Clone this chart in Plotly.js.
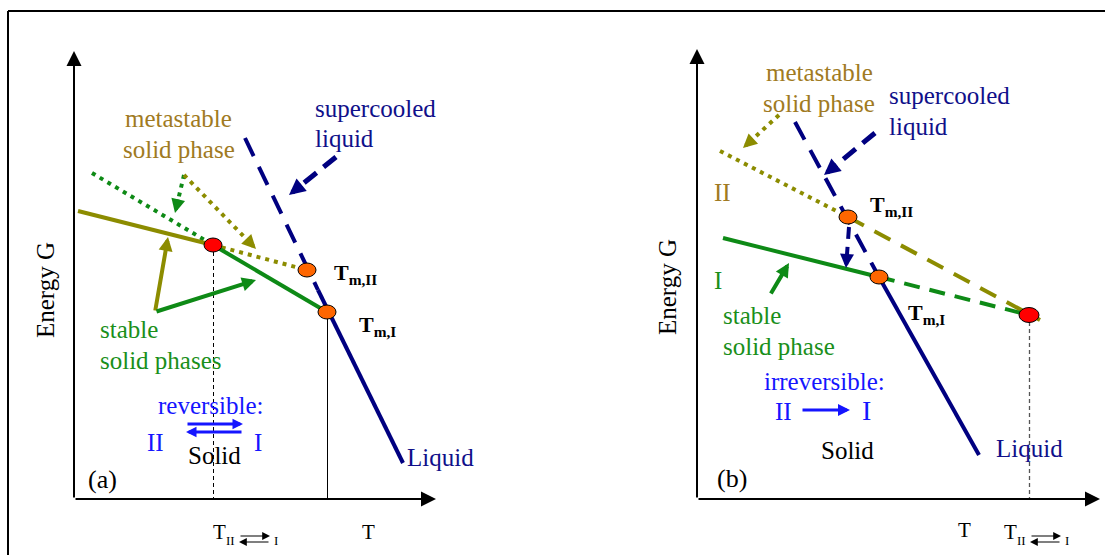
<!DOCTYPE html>
<html><head><meta charset="utf-8">
<script src="https://cdn.plot.ly/plotly-3.0.1.min.js"></script>
<style>html,body{margin:0;padding:0;background:#fff}</style>
</head><body>
<div id="chart" style="width:1105px;height:555px"></div>
<script>
// ---------- Panel (a): schematic G(T) values (T, G in arbitrary units, origin at axes corner) ----------
const a_solidII_T = [4, 139],   a_solidII_G = [288, 254];   // stable solid II (olive, solid)
const a_metaI_T   = [18, 139],  a_metaI_G   = [326, 254];   // metastable I below transition (green, dotted)
const a_solidI_T  = [139, 253], a_solidI_G  = [254, 187];   // stable solid I (green, solid)
const a_metaII_T  = [139, 233], a_metaII_G  = [254, 229];   // metastable II above transition (olive, dotted)
const a_superL_T  = [171, 244], a_superL_G  = [361, 209];   // supercooled liquid (navy, dashed)
const a_liquid_T  = [244, 329], a_liquid_G  = [209, 36];    // liquid (navy, solid)
const a_TmII = [233, 229], a_TmI = [253, 187], a_Ttr = [139, 254];
// arrows: [tailT, tailG, tipT, tipG]
const a_arrowGreenDot = [110, 324, 101, 286];
const a_arrowOliveDot = [110, 324, 182, 250];
const a_arrowOlive    = [81, 187, 94, 262];
const a_arrowGreen    = [81, 187, 182, 219];
const a_arrowNavy     = [262, 342, 215, 304];
const a_revRight      = [112, 75, 169, 75];
const a_revLeft       = [169, 67, 112, 67];
const a_axisTmax = 362, a_axisGmax = 448;
const a_tickT = ["T"], a_tickT_pos = [294];

// ---------- Panel (b) ----------
const b_metaII_T  = [23, 151],  b_metaII_G  = [348, 282];   // metastable II (olive, dotted)
const b_metaIIx_T = [151, 343], b_metaIIx_G = [282, 179];   // II extrapolated (olive, dashed)
const b_solidI_T  = [26, 182],  b_solidI_G  = [261, 222];   // stable I (green, solid)
const b_solidIx_T = [182, 332], b_solidIx_G = [222, 184];   // I extrapolated (green, dashed)
const b_superL_T  = [98, 182],  b_superL_G  = [377, 222];   // supercooled liquid (navy, dashed)
const b_liquid_T  = [182, 282], b_liquid_G  = [222, 44];    // liquid (navy, solid)
const b_TmII = [151, 282], b_TmI = [182, 222], b_Ttr = [332, 184];
const b_arrowOliveDot = [82, 384, 46, 351];
const b_arrowNavy     = [178, 366, 127, 324];
const b_arrowNavyDown = [152, 272, 149, 231];
const b_arrowGreen    = [73, 204, 92, 236];
const b_irrev         = [104, 89, 153, 89];
const b_axisTmax = 403, b_axisGmax = 450;
const b_tickT = ["T"], b_tickT_pos = [267];

// ---------- styling ----------
const FONT = 'Liberation Serif, Times New Roman, serif';
const OLIVE = '#8c8c00', GREEN = '#0e8a16', NAVY = '#000080';
const BROWN = '#a07a22', GTXT = '#1a8f1a', NTXT = '#10108a', BLUE = '#1515ff';
const CRISP = 0.5;   // half-pixel offset so thin vertical guide lines render sharp

const A = {x: 'x', y: 'y'}, B = {x: 'x2', y: 'y2'};
const traces = [], annos = [], shapes = [];

function line(p, T, G, color, width, dash) {
  traces.push({type: 'scatter', mode: 'lines', x: T, y: G, xaxis: p.x, yaxis: p.y,
    line: {color: color, width: width, dash: dash || 'solid'}, hoverinfo: 'skip', cliponaxis: false});
}
function arrow(p, a, color, width, size, dash) {
  const dx = a[2] - a[0], dy = a[3] - a[1], L = Math.hypot(dx, dy);
  const ux = dx / L, uy = dy / L;
  const head = 5 * width * size;
  if (dash) {
    line(p, [a[0], a[2] - ux * head * 0.7], [a[1], a[3] - uy * head * 0.7], color, width, dash);
    annos.push({xref: p.x, yref: p.y, axref: p.x, ayref: p.y, x: a[2], y: a[3],
      ax: a[2] - ux * head * 1.1, ay: a[3] - uy * head * 1.1, text: '', showarrow: true,
      arrowhead: 2, arrowsize: size, arrowwidth: width, arrowcolor: color, standoff: 0});
  } else {
    annos.push({xref: p.x, yref: p.y, axref: p.x, ayref: p.y, x: a[2], y: a[3],
      ax: a[0], ay: a[1], text: '', showarrow: true,
      arrowhead: 2, arrowsize: size, arrowwidth: width, arrowcolor: color, standoff: 0});
  }
}
function txt(p, T, G, text, size, color, xanchor, extra) {
  annos.push(Object.assign({xref: p.x, yref: p.y, x: T, y: G, text: text, showarrow: false,
    xanchor: xanchor || 'center', yanchor: 'middle',
    font: {family: FONT, size: size, color: color}}, extra || {}));
}
function dot(p, pt, color, rx, ry) {
  shapes.push({type: 'circle', xref: p.x, yref: p.y, x0: pt[0] - rx, x1: pt[0] + rx,
    y0: pt[1] - ry, y1: pt[1] + ry, fillcolor: color, line: {color: '#000', width: 1}, layer: 'above'});
}
function axes(p, Tmax, Gmax) {
  annos.push({xref: p.x, yref: p.y, axref: p.x, ayref: p.y, x: 0, y: Gmax, ax: 0, ay: 0, text: '',
    showarrow: true, arrowhead: 2, arrowsize: 1.5, arrowwidth: 2, arrowcolor: '#000', standoff: 0});
  annos.push({xref: p.x, yref: p.y, axref: p.x, ayref: p.y, x: Tmax, y: 0, ax: 0, ay: 0, text: '',
    showarrow: true, arrowhead: 2, arrowsize: 1.5, arrowwidth: 2, arrowcolor: '#000', standoff: 0});
}
function trLabel(p, T, G) {   // "T_II <=> I" label
  txt(p, T, G, 'T', 21, '#000', 'left');
  txt(p, T + 13, G - 8, 'II', 13, '#000', 'left');
  annos.push({xref: p.x, yref: p.y, axref: p.x, ayref: p.y, x: T + 59, y: G - 4, ax: T + 28, ay: G - 4,
    text: '', showarrow: true, arrowhead: 2, arrowsize: 1.3, arrowwidth: 1.2, arrowcolor: '#000', standoff: 0});
  annos.push({xref: p.x, yref: p.y, axref: p.x, ayref: p.y, x: T + 28, y: G - 10, ax: T + 59, ay: G - 10,
    text: '', showarrow: true, arrowhead: 2, arrowsize: 1.3, arrowwidth: 1.2, arrowcolor: '#000', standoff: 0});
  txt(p, T + 61, G - 8, 'I', 13, '#000', 'left');
}

// ---------- panel (a) ----------
axes(A, a_axisTmax, a_axisGmax);
line(A, [a_Ttr[0] + CRISP, a_Ttr[0] + CRISP], [a_Ttr[1] - 7, 0], '#000', 1, '4px,3px');
line(A, [a_TmI[0] + CRISP, a_TmI[0] + CRISP], [a_TmI[1], 0], '#000', 1);
line(A, a_metaI_T, a_metaI_G, GREEN, 4, '4px,5px');
line(A, a_metaII_T, a_metaII_G, OLIVE, 4, '4px,5px');
line(A, a_solidII_T, a_solidII_G, OLIVE, 4);
line(A, a_solidI_T, a_solidI_G, GREEN, 4);
line(A, a_superL_T, a_superL_G, NAVY, 4, '20px,12px');
line(A, a_liquid_T, a_liquid_G, NAVY, 4);
arrow(A, a_arrowGreenDot, GREEN, 4, 0.7, '4px,5px');
arrow(A, a_arrowOliveDot, OLIVE, 4, 0.7, '4px,5px');
arrow(A, a_arrowOlive, OLIVE, 4, 0.7);
arrow(A, a_arrowGreen, GREEN, 4, 0.7);
arrow(A, a_arrowNavy, NAVY, 5, 0.65, '16px,9px');
arrow(A, a_revRight, BLUE, 3, 0.7);
arrow(A, a_revLeft, BLUE, 3, 0.7);
dot(A, a_Ttr, '#ff0000', 9, 7);
dot(A, a_TmII, '#ff6600', 9, 7);
dot(A, a_TmI, '#ff6600', 9, 7);
txt(A, -29, 209, 'Energy G', 25, '#000', 'center', {textangle: -90});
txt(A, 104, 381, 'metastable', 25, BROWN);
txt(A, 105, 350, 'solid phase', 25, BROWN);
txt(A, 239, 391, 'supercooled', 25, NTXT, 'left');
txt(A, 239, 361, 'liquid', 25, NTXT, 'left');
txt(A, 258, 225, '<b>T</b><sub><b>m,II</b></sub>', 22, '#000', 'left');
txt(A, 283, 173, '<b>T</b><sub><b>m,I</b></sub>', 22, '#000', 'left');
txt(A, 24, 170, 'stable', 25, GTXT, 'left');
txt(A, 24, 139, 'solid phases', 25, GTXT, 'left');
txt(A, 137, 94, 'reversible:', 25, BLUE);
txt(A, 81, 57, 'II', 25, BLUE);
txt(A, 184, 57, 'I', 25, BLUE);
txt(A, 140, 44, 'Solid', 25, '#000');
txt(A, 28, 20, '(a)', 26, '#000');
txt(A, 331, 42, 'Liquid', 25, NTXT, 'left');
txt(A, a_tickT_pos[0], -33, a_tickT[0], 21, '#000');
trLabel(A, a_Ttr[0] - 2, -33);

// ---------- panel (b) ----------
axes(B, b_axisTmax, b_axisGmax);
line(B, [b_Ttr[0] + CRISP, b_Ttr[0] + CRISP], [b_Ttr[1] - 7, 0], '#555', 1.3, '4px,3px');
line(B, b_metaII_T, b_metaII_G, OLIVE, 4, '4px,5px');
line(B, b_metaIIx_T, b_metaIIx_G, OLIVE, 4, '18px,12px');
line(B, b_solidI_T, b_solidI_G, GREEN, 4);
line(B, b_solidIx_T, b_solidIx_G, GREEN, 4, '16px,10px');
line(B, b_superL_T, b_superL_G, NAVY, 4, '20px,12px');
line(B, b_liquid_T, b_liquid_G, NAVY, 4);
arrow(B, b_arrowOliveDot, OLIVE, 4, 0.7, '4px,5px');
arrow(B, b_arrowNavy, NAVY, 5, 0.65, '16px,9px');
arrow(B, b_arrowNavyDown, NAVY, 4, 0.7, '12px,8px');
arrow(B, b_arrowGreen, GREEN, 4, 0.7);
arrow(B, b_irrev, BLUE, 3, 0.8);
dot(B, b_TmII, '#ff6600', 9, 7);
dot(B, b_TmI, '#ff6600', 9, 7);
dot(B, b_Ttr, '#ff0000', 10, 7.5);
txt(B, -30, 212, 'Energy G', 25, '#000', 'center', {textangle: -90});
txt(B, 122, 427, 'metastable', 25, BROWN);
txt(B, 122, 396, 'solid phase', 25, BROWN);
txt(B, 190, 404, 'supercooled', 25, NTXT, 'left');
txt(B, 190, 373, 'liquid', 25, NTXT, 'left');
txt(B, 25, 307, 'II', 25, BROWN);
txt(B, 21, 219, 'I', 25, GTXT);
txt(B, 171, 293, '<b>T</b><sub><b>m,II</b></sub>', 22, '#000', 'left');
txt(B, 209, 185, '<b>T</b><sub><b>m,I</b></sub>', 22, '#000', 'left');
txt(B, 24, 184, 'stable', 25, GTXT, 'left');
txt(B, 24, 153, 'solid phase', 25, GTXT, 'left');
txt(B, 127, 118, 'irreversible:', 25, BLUE);
txt(B, 86, 88, 'II', 25, BLUE);
txt(B, 169, 89, 'I', 28, BLUE);
txt(B, 150, 49, 'Solid', 25, '#000');
txt(B, 297, 51, 'Liquid', 25, NTXT, 'left');
txt(B, 35, 21, '(b)', 26, '#000');
txt(B, b_tickT_pos[0], -31, b_tickT[0], 21, '#000');
trLabel(B, b_Ttr[0] - 27, -33);

// frame lines
shapes.push({type: 'line', xref: 'paper', yref: 'paper', x0: 8 / 1105, x1: 1, y0: 1 - 11 / 555, y1: 1 - 11 / 555, line: {color: '#000', width: 2}});
shapes.push({type: 'line', xref: 'paper', yref: 'paper', x0: 8 / 1105, x1: 8 / 1105, y0: 0, y1: 1 - 11 / 555, line: {color: '#000', width: 2}});

const ax = {visible: false, fixedrange: true, domain: [0, 1]};
const layout = {
  width: 1105, height: 555, margin: {l: 0, r: 0, t: 0, b: 0},
  paper_bgcolor: '#fff', plot_bgcolor: 'rgba(0,0,0,0)', showlegend: false, hovermode: false,
  xaxis: Object.assign({}, ax, {range: [-74, 1031]}),
  yaxis: Object.assign({}, ax, {range: [-56, 499]}),
  xaxis2: Object.assign({}, ax, {range: [-697, 408], anchor: 'y2'}),
  yaxis2: Object.assign({}, ax, {range: [-56, 499], anchor: 'x2'}),
  annotations: annos, shapes: shapes
};
Plotly.newPlot('chart', traces, layout, {staticPlot: true, displayModeBar: false});
</script>
</body></html>
